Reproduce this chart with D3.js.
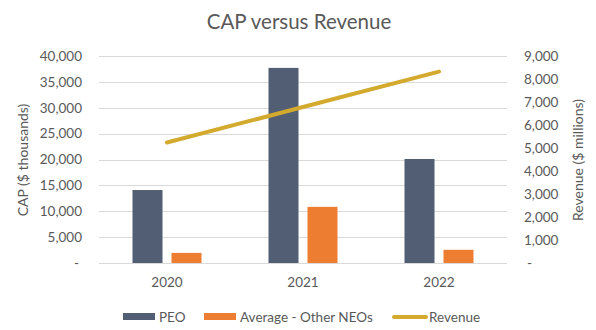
<!DOCTYPE html>
<html>
<head>
<meta charset="utf-8">
<script src="https://cdn.jsdelivr.net/npm/d3@7"></script>
<style>
  body { margin: 0; background: #fff; }
  text { font-family: Lato, "Open Sans", sans-serif; fill: #595959; }
</style>
</head>
<body>
<svg width="596" height="330"></svg>
<script>
// CAP (thousands) and revenue (millions) by year
var years = ["2020", "2021", "2022"];
var peo = [14100, 37700, 20100];
var otherNeos = [1950, 10850, 2550];
var revenue = [5240, 6780, 8320];
var capTicks = [0, 5000, 10000, 15000, 20000, 25000, 30000, 35000, 40000];
var revTicks = [0, 1000, 2000, 3000, 4000, 5000, 6000, 7000, 8000, 9000];

var colors = { peo: "#515E73", other: "#ED7D31", rev: "#D4AA2E", grid: "#D9D9D9" };

var margin = { top: 56, right: 89, bottom: 67, left: 99 },
  width = 596 - margin.left - margin.right,
  height = 330 - margin.top - margin.bottom;

var svg = d3.select("svg");
var g = svg.append("g")
  .attr("transform", "translate(" + margin.left + "," + margin.top + ")");

var xScale = d3.scaleBand().domain(years).range([0, width]);
var yLeft = d3.scaleLinear().domain([0, 40000]).range([height, 0]);
var yRight = d3.scaleLinear().domain([0, 9000]).range([height, 0]);

var fmt = function(v) { return v === 0 ? "-" : d3.format(",")(v); };

// gridlines
g.selectAll(".grid")
  .data(capTicks)
  .enter().append("line")
  .attr("x1", 0)
  .attr("x2", width)
  .attr("y1", function(d) { return Math.round(yLeft(d)) + 0.5; })
  .attr("y2", function(d) { return Math.round(yLeft(d)) + 0.5; })
  .attr("stroke", colors.grid)
  .attr("stroke-width", 1);

// left axis
var axL = g.append("g")
  .attr("transform", "translate(-10,0)")
  .call(d3.axisLeft(yLeft).tickValues(capTicks).tickFormat(fmt).tickSize(0).tickPadding(7));
axL.select(".domain").remove();
axL.selectAll("text").attr("font-size", "13.5px").attr("fill", "#595959")
  .attr("dx", function(d) { return d === 0 ? "-3px" : 0; });

// right axis
var axR = g.append("g")
  .attr("transform", "translate(" + (width + 10) + ",0)")
  .call(d3.axisRight(yRight).tickValues(revTicks).tickFormat(fmt).tickSize(0).tickPadding(7));
axR.select(".domain").remove();
axR.selectAll("text").attr("font-size", "13.5px").attr("fill", "#595959")
  .attr("dx", function(d) { return d === 0 ? "3px" : 0; });

// x axis
var axX = g.append("g")
  .attr("transform", "translate(0," + height + ")")
  .call(d3.axisBottom(xScale).tickSize(0).tickPadding(14));
axX.select(".domain").remove();
axX.selectAll("text").attr("font-size", "13.5px").attr("fill", "#595959");

// bars
var barW = 30, gap = 9;
var bars = g.selectAll(".year")
  .data(years)
  .enter().append("g")
  .attr("transform", function(d) {
    return "translate(" + (xScale(d) + xScale.bandwidth() / 2) + ",0)";
  });

bars.append("rect")
  .attr("x", -barW - gap / 2)
  .attr("width", barW)
  .attr("y", function(d, i) { return yLeft(peo[i]); })
  .attr("height", function(d, i) { return height - yLeft(peo[i]); })
  .attr("fill", colors.peo);

bars.append("rect")
  .attr("x", gap / 2)
  .attr("width", barW)
  .attr("y", function(d, i) { return yLeft(otherNeos[i]); })
  .attr("height", function(d, i) { return height - yLeft(otherNeos[i]); })
  .attr("fill", colors.other);

// revenue line
var line = d3.line()
  .x(function(d, i) { return xScale(years[i]) + xScale.bandwidth() / 2; })
  .y(function(d) { return yRight(d); });

g.append("path")
  .attr("d", line(revenue))
  .attr("fill", "none")
  .attr("stroke", colors.rev)
  .attr("stroke-width", 4)
  .attr("stroke-linecap", "round");

// title
svg.append("text")
  .attr("x", 299)
  .attr("y", 29)
  .attr("text-anchor", "middle")
  .attr("font-size", "20.5px")
  .text("CAP versus Revenue");

// axis titles
svg.append("text")
  .attr("transform", "translate(28,160) rotate(-90)")
  .attr("text-anchor", "middle")
  .attr("font-size", "14px")
  .text("CAP ($ thousands)");

svg.append("text")
  .attr("transform", "translate(583,160) rotate(-90)")
  .attr("text-anchor", "middle")
  .attr("font-size", "14px")
  .text("Revenue ($ millions)");

// legend
var legend = svg.append("g").attr("transform", "translate(0,317)");
var items = [
  { label: "PEO", color: colors.peo, x: 123, type: "rect" },
  { label: "Average - Other NEOs", color: colors.other, x: 204, type: "rect" },
  { label: "Revenue", color: colors.rev, x: 393, type: "line" }
];
items.forEach(function(it) {
  if (it.type === "rect") {
    legend.append("rect")
      .attr("x", it.x).attr("y", -4).attr("width", 32).attr("height", 7)
      .attr("fill", it.color);
  } else {
    legend.append("line")
      .attr("x1", it.x + 1).attr("x2", it.x + 33).attr("y1", 0).attr("y2", 0)
      .attr("stroke", it.color).attr("stroke-width", 4).attr("stroke-linecap", "round");
  }
  legend.append("text")
    .attr("x", it.x + 36)
    .attr("y", 0)
    .attr("dy", "0.35em")
    .attr("font-size", "13.5px")
    .text(it.label);
});
</script>
</body>
</html>
